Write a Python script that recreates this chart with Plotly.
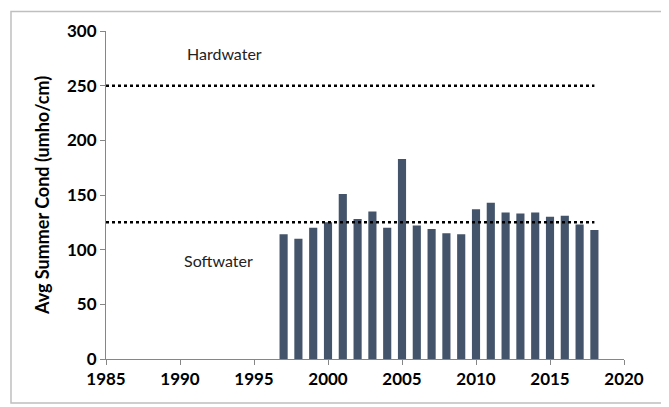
import plotly.graph_objects as go

years = list(range(1997, 2019))
cond = [114, 110, 120, 125, 151, 128, 135, 120, 183, 122, 119, 115, 114,
        137, 143, 134, 133, 134, 130, 131, 123, 118]

line_years = [1985, 2018]
hard_limit = [250, 250]
soft_limit = [125, 125]

fig = go.Figure()

fig.add_trace(go.Bar(
    x=years,
    y=cond,
    width=0.55,
    marker_color="#44546A",
    marker_line_width=0,
    showlegend=False,
))
fig.add_trace(go.Scatter(
    x=line_years, y=hard_limit, mode="lines",
    line=dict(color="black", width=2.5, dash="dot"),
    showlegend=False,
))
fig.add_trace(go.Scatter(
    x=line_years, y=soft_limit, mode="lines",
    line=dict(color="black", width=2.5, dash="dot"),
    showlegend=False,
))

fig.add_annotation(x=1993.0, y=279, text="Hardwater", showarrow=False,
                   font=dict(family="Lato", size=16, color="#222"))
fig.add_annotation(x=1992.6, y=90, text="Softwater", showarrow=False,
                   font=dict(family="Lato", size=16, color="#222"))

# outer chart border
fig.add_shape(type="rect", xref="paper", yref="paper",
              x0=-0.1834, x1=1.0792, y0=-0.1339, y1=1.0595,
              line=dict(color="#BFBFBF", width=1.5))

# page body has an 8px margin, so the figure is a bit smaller than the window
fig.update_layout(
    width=661,
    height=399,
    margin=dict(l=98, r=45, t=15, b=48),
    plot_bgcolor="white",
    paper_bgcolor="white",
    font=dict(family="Lato", color="black"),
    xaxis=dict(
        range=[1985, 2020],
        dtick=5,
        tick0=1985,
        showgrid=False,
        zeroline=False,
        showline=True,
        linecolor="#868686",
        ticks="outside",
        ticklen=5,
        tickcolor="#868686",
        tickfont=dict(family="Lato", size=17, color="black", weight="bold"),
    ),
    yaxis=dict(
        range=[0, 300],
        dtick=50,
        showgrid=False,
        zeroline=False,
        showline=True,
        linecolor="#868686",
        ticks="outside",
        ticklen=5,
        tickcolor="#868686",
        tickfont=dict(family="Lato", size=17, color="black", weight="bold"),
        title=dict(text="Avg Summer Cond (umho/cm)", standoff=12,
                   font=dict(family="Lato", size=18, color="black", weight="bold")),
    ),
)

fig.write_html("out.html")
